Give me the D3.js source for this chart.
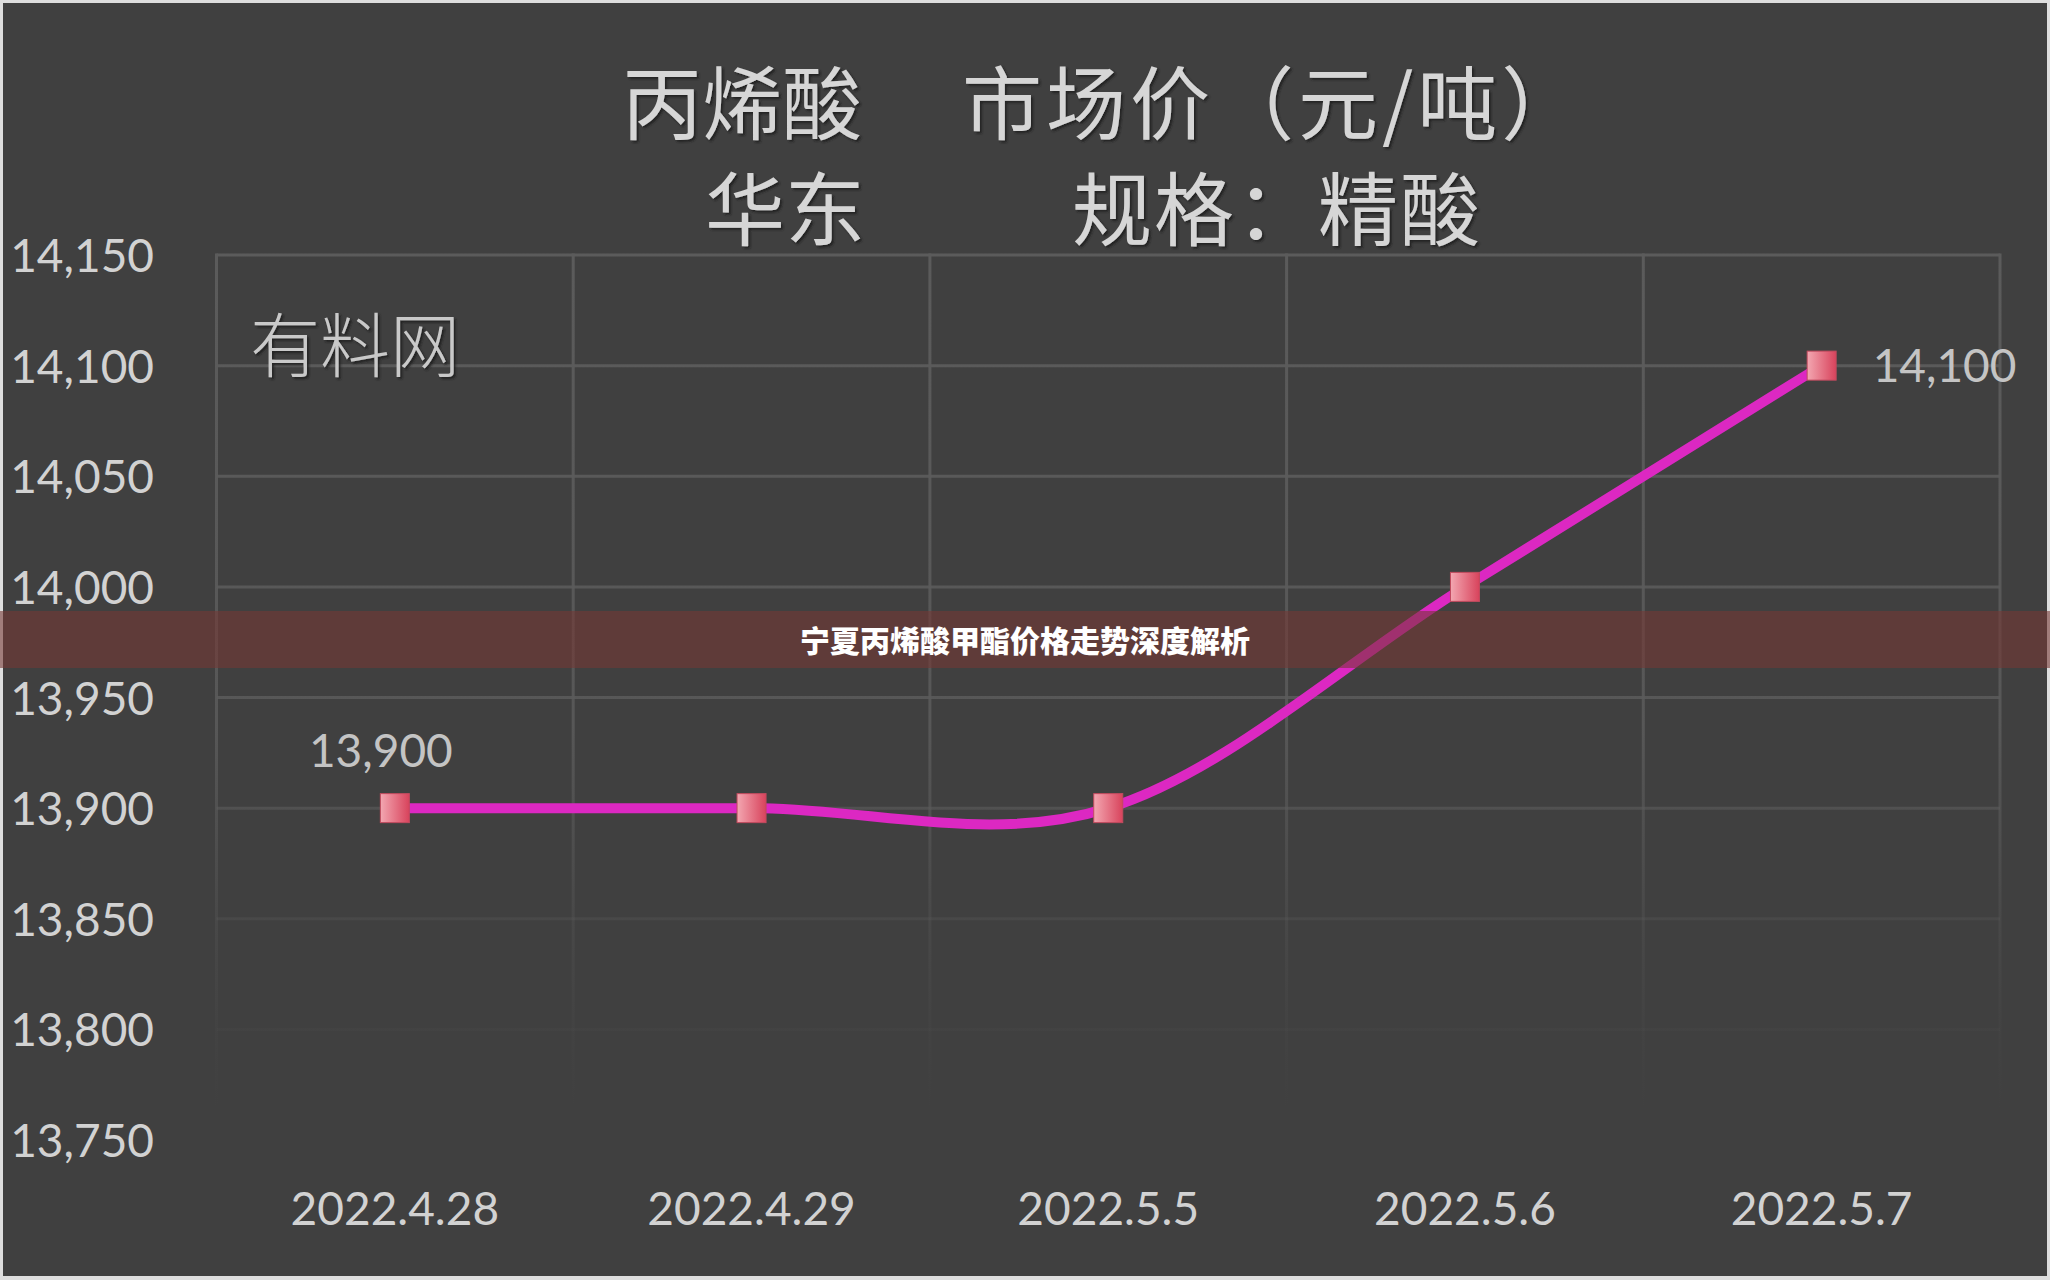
<!DOCTYPE html>
<html>
<head>
<meta charset="utf-8">
<script src="https://cdn.jsdelivr.net/npm/d3@7/dist/d3.min.js"></script>
<style>
  html, body { margin: 0; padding: 0; background: #dedede; }
  svg { display: block; }
</style>
</head>
<body>
<svg id="chart" width="2050" height="1280"></svg>
<script>
// ---- data ----
const categories = ["2022.4.28", "2022.4.29", "2022.5.5", "2022.5.6", "2022.5.7"];
const prices = [13900, 13900, 13900, 14000, 14100];
const yTicks = [13750, 13800, 13850, 13900, 13950, 14000, 14050, 14100, 14150];
const labeledIndex = [0, 4];
const titleLine1 = ["丙烯酸", "市场价（元/吨）"];
const titleLine2 = ["华东", "规格：精酸"];
const watermark = "有料网";
const bannerText = "宁夏丙烯酸甲酯价格走势深度解析";

const W = 2050, H = 1280;
const plot = { left: 216.5, right: 2000, top: 255, bottom: 1140 };
const latin = "Lato, 'Open Sans', 'Noto Sans', sans-serif";
const cjk = "'Noto Sans CJK SC', 'Noto Sans', sans-serif";

const svg = d3.select("#chart");
const defs = svg.append("defs");

// background
svg.append("rect").attr("x", 3).attr("y", 3).attr("width", W - 6).attr("height", H - 7).attr("fill", "#404040");

// gradients
const gGrad = defs.append("linearGradient").attr("id", "gridFade")
  .attr("gradientUnits", "userSpaceOnUse")
  .attr("x1", 0).attr("y1", plot.top).attr("x2", 0).attr("y2", 1110);
gGrad.append("stop").attr("offset", 0).attr("stop-color", "#5b5b5b").attr("stop-opacity", 1);
gGrad.append("stop").attr("offset", 0.55).attr("stop-color", "#5b5b5b").attr("stop-opacity", 0.85);
gGrad.append("stop").attr("offset", 0.78).attr("stop-color", "#5b5b5b").attr("stop-opacity", 0.3);
gGrad.append("stop").attr("offset", 0.9).attr("stop-color", "#5b5b5b").attr("stop-opacity", 0.1);
gGrad.append("stop").attr("offset", 1).attr("stop-color", "#5b5b5b").attr("stop-opacity", 0);

const mGrad = defs.append("linearGradient").attr("id", "markerGrad")
  .attr("x1", 0).attr("y1", 0).attr("x2", 1).attr("y2", 0);
mGrad.append("stop").attr("offset", 0).attr("stop-color", "#f3a7b1");
mGrad.append("stop").attr("offset", 1).attr("stop-color", "#d8435c");

const shadow = defs.append("filter").attr("id", "emboss").attr("x", "-10%").attr("y", "-10%").attr("width", "120%").attr("height", "130%");
shadow.append("feDropShadow").attr("dx", 2).attr("dy", 2).attr("stdDeviation", 0.8)
  .attr("flood-color", "#1a1a1a").attr("flood-opacity", 0.9);

// scales
const x = d3.scaleBand().domain(categories).range([plot.left, plot.right]).padding(0);
const y = d3.scaleLinear().domain([13750, 14150]).range([plot.bottom, plot.top]);
const cx = d => x(d) + x.bandwidth() / 2;

// grid
const grid = svg.append("g");
grid.selectAll("line.h").data(yTicks).join("line")
  .attr("x1", plot.left).attr("x2", plot.right)
  .attr("y1", d => y(d)).attr("y2", d => y(d))
  .attr("stroke", "url(#gridFade)").attr("stroke-width", 3);
const bounds = categories.map(c => x(c)).concat([plot.right]);
grid.selectAll("rect.v").data(bounds).join("rect")
  .attr("x", d => d - 1.5).attr("width", 3)
  .attr("y", plot.top - 1.5).attr("height", plot.bottom - plot.top)
  .attr("fill", "url(#gridFade)");

// y axis labels
const yAxis = d3.axisLeft(y).tickValues(yTicks).tickFormat(d3.format(",")).tickSize(0).tickPadding(0);
const ya = svg.append("g").attr("transform", "translate(154,0)").call(yAxis);
ya.select(".domain").remove();
ya.selectAll("text").attr("fill", "#d2d2d2").attr("font-family", latin).attr("font-size", 46)
  .attr("dy", "0.36em");

// x axis labels
const xAxis = d3.axisBottom(x).tickSize(0).tickPadding(0);
const xa = svg.append("g").attr("transform", "translate(0,1208)").call(xAxis);
xa.select(".domain").remove();
xa.selectAll("text").attr("fill", "#d2d2d2").attr("font-family", latin).attr("font-size", 46)
  .attr("dy", "0.36em");

// title
const title = svg.append("g").attr("filter", "url(#emboss)")
  .attr("fill", "#d6d6d6").attr("font-family", cjk).attr("font-size", 80).attr("font-weight", 400);
const t1 = title.append("text").attr("y", 98).attr("dominant-baseline", "central");
t1.append("tspan").attr("x", 622).text(titleLine1[0]);
t1.append("tspan").attr("x", 962).attr("letter-spacing", 4).text(titleLine1[1]);
const t2 = title.append("text").attr("y", 204).attr("dominant-baseline", "central");
t2.append("tspan").attr("x", 705).text(titleLine2[0]);
t2.append("tspan").attr("x", 1072).attr("letter-spacing", 2).text(titleLine2[1]);

// watermark
svg.append("text").attr("x", 250).attr("y", 341).attr("dominant-baseline", "central")
  .attr("fill", "#c9c9c9").attr("font-family", cjk).attr("font-size", 70).attr("font-weight", 300)
  .attr("filter", "url(#emboss)")
  .text(watermark);

// line
const pts = categories.map((c, i) => [cx(c), y(prices[i])]);
svg.append("path").attr("d", d3.line().curve(d3.curveCardinal.tension(0))(pts))
  .attr("fill", "none").attr("stroke", "#dc28c2").attr("stroke-width", 10).attr("stroke-linecap", "butt");

// markers
const ms = 29;
svg.selectAll("rect.marker").data(pts).join("rect")
  .attr("x", d => d[0] - ms / 2).attr("y", d => d[1] - ms / 2)
  .attr("width", ms).attr("height", ms)
  .attr("fill", "url(#markerGrad)").attr("stroke", "#c24a5e").attr("stroke-width", 1);

// data labels
const lf = d3.format(",");
svg.append("text").attr("x", cx(categories[labeledIndex[0]]) - 14).attr("y", y(prices[labeledIndex[0]]) - 58)
  .attr("text-anchor", "middle").attr("dy", "0.36em")
  .attr("fill", "#c4c4c4").attr("font-family", latin).attr("font-size", 46)
  .text(lf(prices[labeledIndex[0]]));
svg.append("text").attr("x", cx(categories[labeledIndex[1]]) + 51).attr("y", y(prices[labeledIndex[1]]))
  .attr("text-anchor", "start").attr("dy", "0.36em")
  .attr("fill", "#c4c4c4").attr("font-family", latin).attr("font-size", 46)
  .text(lf(prices[labeledIndex[1]]));

// banner overlay
svg.append("rect").attr("x", 0).attr("y", 611).attr("width", W).attr("height", 57)
  .attr("fill", "rgb(117,55,52)").attr("fill-opacity", 0.58);
svg.append("text").attr("x", W / 2).attr("y", 639).attr("text-anchor", "middle").attr("dominant-baseline", "central")
  .attr("fill", "#ffffff").attr("font-family", cjk).attr("font-size", 30).attr("font-weight", 900)
  .text(bannerText);
</script>
</body>
</html>
